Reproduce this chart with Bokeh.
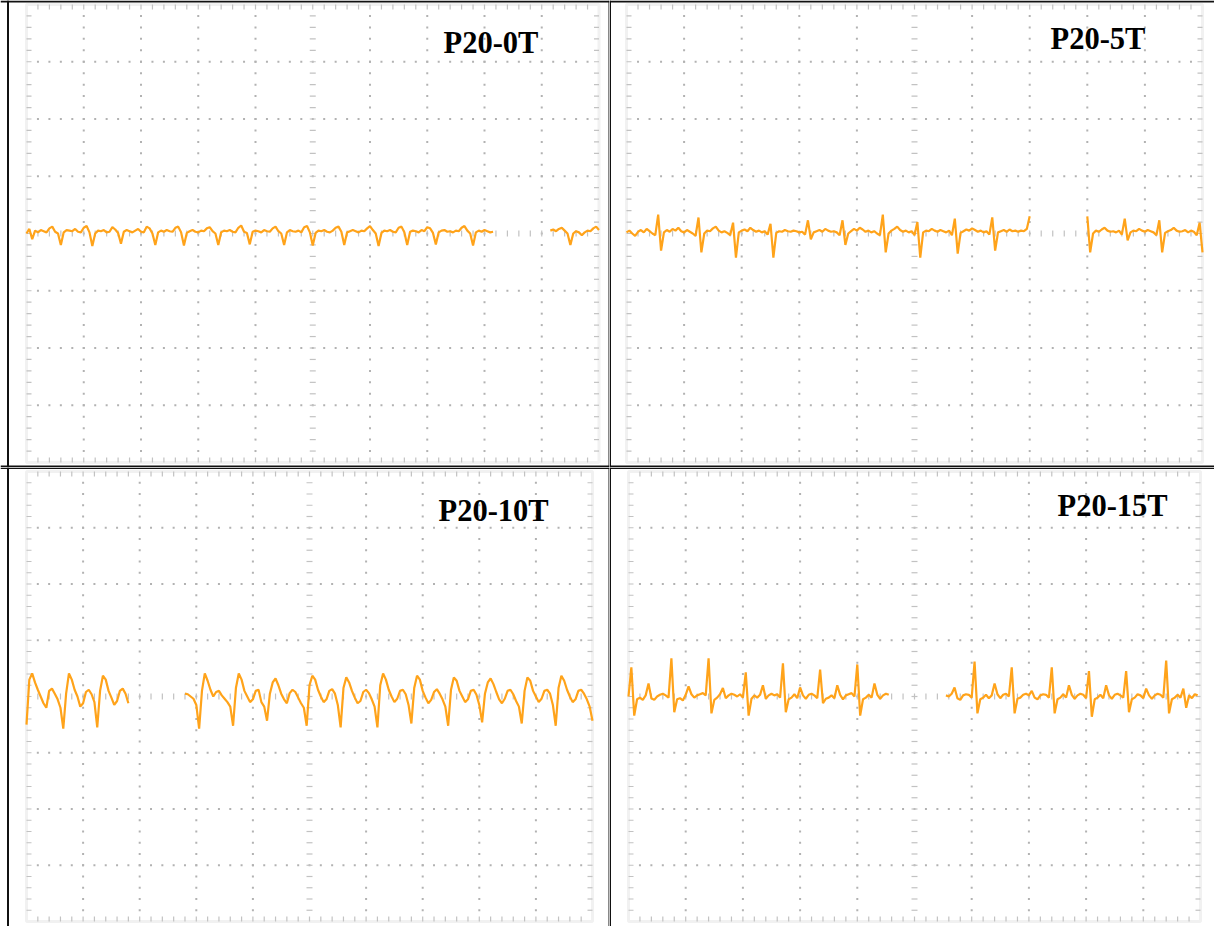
import numpy as np
from bokeh.plotting import figure
from bokeh.layouts import column, row
from bokeh.models import Span, BoxAnnotation, Label, Range1d
from bokeh.embed import file_html
from bokeh.resources import INLINE

# ---------------- data (in screen divisions) ----------------
labels = ["P20-0T", "P20-5T", "P20-10T", "P20-15T"]
STEP = 0.05  # horizontal divisions per sample
N = None

trace_p20_0t = [
    0.0, 0.08, -0.1, 0.05, 0.02, 0.06, 0.04, 0.02, 0.09, 0.12,
    0.03, 0.0, -0.2, 0.02, 0.06, 0.05, 0.04, 0.08, 0.03, 0.02,
    0.1, 0.13, 0.02, -0.22, 0.0, 0.05, 0.04, 0.06, 0.02, 0.03,
    0.11, 0.07, 0.01, -0.18, 0.03, 0.06, 0.04, 0.02, 0.05, 0.08,
    0.03, 0.02, 0.12, 0.09, 0.0, -0.2, 0.02, 0.05, 0.03, 0.06,
    0.04, 0.03, 0.1, 0.12, 0.02, -0.21, 0.01, 0.04, 0.06, 0.03,
    0.02, 0.05, 0.04, 0.09, 0.11, 0.04, 0.0, -0.2, 0.02, 0.05,
    0.04, 0.06, 0.03, 0.02, 0.1, 0.14, 0.03, 0.01, -0.19, 0.03,
    0.05, 0.04, 0.02, 0.06, 0.04, 0.03, 0.09, 0.12, 0.04, 0.0,
    -0.2, 0.02, 0.06, 0.04, 0.03, 0.05, 0.02, 0.11, 0.13, 0.02,
    -0.21, 0.01, 0.05, 0.04, 0.06, 0.03, 0.02, 0.05, 0.1, 0.12,
    0.03, -0.2, 0.02, 0.04, 0.06, 0.04, 0.02, 0.05, 0.04, 0.09,
    0.13, 0.06, 0.0, -0.22, 0.01, 0.05, 0.04, 0.06, 0.03, 0.02,
    0.1, 0.12, 0.02, -0.2, 0.03, 0.05, 0.04, 0.02, 0.06, 0.04,
    0.11, 0.09, 0.01, -0.19, 0.02, 0.05, 0.06, 0.03, 0.04, 0.02,
    0.05, 0.04, 0.1, 0.13, 0.05, 0.0, -0.21, 0.02, 0.05, 0.03,
    0.06, 0.04, 0.02, 0.03, N, N, N, N, N, N,
    N, N, N, N, N, N, N, N, N, N,
    N, N, N, 0.05, 0.07, 0.04, 0.08, 0.1, 0.05, 0.0,
    -0.2, 0.0, 0.04, 0.02, -0.03, 0.02, 0.05, 0.04, 0.09, 0.12, 0.06,
]

trace_p20_5t = [
    0.02, 0.05, 0.0, -0.04, 0.03, 0.06, 0.02, 0.08, 0.04, 0.0,
    -0.03, 0.33, -0.3, 0.02, 0.06, 0.03, 0.08, 0.05, 0.1, 0.04,
    0.02, 0.06, 0.03, 0.0, -0.04, 0.28, -0.33, 0.0, 0.05, 0.04,
    0.09, 0.12, 0.05, 0.02, 0.04, 0.01, -0.03, 0.19, -0.42, 0.02,
    0.05, 0.07, 0.04, 0.1, 0.06, 0.03, 0.05, 0.02, 0.04, -0.02,
    0.17, -0.42, 0.01, 0.04, 0.03, 0.06, 0.04, 0.03, 0.05, 0.04,
    0.02, 0.03, -0.02, 0.23, -0.1, 0.02, 0.04, 0.06, 0.03, 0.08,
    0.05, 0.03, 0.04, 0.02, -0.03, 0.23, -0.2, 0.0, 0.04, 0.08,
    0.05, 0.1, 0.07, 0.03, 0.05, 0.02, 0.04, 0.0, -0.03, 0.33,
    -0.33, 0.0, 0.05, 0.08, 0.12, 0.06, 0.03, 0.05, 0.02, 0.04,
    -0.03, 0.2, -0.42, 0.02, 0.05, 0.04, 0.08, 0.05, 0.03, 0.06,
    0.04, 0.02, 0.05, -0.03, 0.26, -0.35, 0.01, 0.04, 0.07, 0.05,
    0.09, 0.06, 0.03, 0.05, 0.02, 0.04, -0.02, 0.28, -0.3, 0.02,
    0.04, 0.06, 0.03, 0.07, 0.04, 0.05, 0.03, 0.05, 0.04, 0.08,
    0.3, N, N, N, N, N, N, N, N, N,
    N, N, N, N, N, N, N, N, N, N,
    0.3, -0.33, 0.0, 0.05, 0.03, 0.07, 0.1, 0.05, 0.03, 0.04,
    0.02, 0.05, -0.02, 0.26, -0.12, 0.02, 0.05, 0.04, 0.08, 0.05,
    0.03, 0.06, 0.04, 0.02, -0.03, 0.23, -0.33, 0.01, 0.04, 0.06,
    0.1, 0.05, 0.03, 0.04, 0.06, 0.02, 0.05, 0.03, -0.03, 0.19, -0.33,
]

trace_p20_10t = [
    -0.5, 0.3, 0.41, 0.25, 0.12, 0.0, -0.12, -0.2, 0.1, 0.14,
    0.05, -0.05, -0.2, -0.57, 0.05, 0.41, 0.3, 0.12, 0.0, -0.18,
    -0.12, 0.08, 0.12, 0.04, -0.1, -0.55, 0.1, 0.37, 0.3, 0.1,
    -0.02, -0.15, -0.08, 0.1, 0.14, 0.05, -0.12, N, N, N,
    N, N, N, N, N, N, N, N, N, N,
    N, N, N, N, N, N, 0.05, 0.04, 0.0, -0.04,
    -0.15, -0.57, 0.1, 0.41, 0.28, 0.12, 0.0, 0.08, 0.1, 0.02,
    -0.04, -0.1, -0.18, -0.52, 0.15, 0.41, 0.3, 0.1, 0.0, -0.1,
    -0.05, 0.1, 0.12, -0.1, -0.18, -0.43, 0.05, 0.25, 0.32, 0.2,
    0.05, -0.05, -0.12, 0.06, 0.12, 0.08, -0.02, -0.12, -0.2, -0.52,
    0.2, 0.37, 0.3, 0.12, 0.0, -0.1, -0.05, 0.1, 0.13, 0.05,
    -0.15, -0.55, 0.15, 0.34, 0.25, 0.1, -0.02, -0.12, -0.08, 0.08,
    0.12, 0.06, -0.05, -0.18, -0.55, 0.2, 0.41, 0.3, 0.12, 0.0,
    -0.1, -0.04, 0.1, 0.12, 0.04, -0.15, -0.48, 0.15, 0.37, 0.3,
    0.1, -0.02, -0.12, -0.06, 0.08, 0.13, 0.05, -0.05, -0.18, -0.52,
    0.12, 0.34, 0.28, 0.1, 0.0, -0.1, -0.05, 0.1, 0.12, 0.03,
    -0.15, -0.46, 0.05, 0.25, 0.32, 0.22, 0.08, -0.05, -0.12, -0.04,
    0.1, 0.12, 0.04, -0.08, -0.18, -0.48, 0.1, 0.34, 0.28, 0.1,
    0.0, -0.1, -0.04, 0.1, 0.12, 0.05, -0.15, -0.52, 0.15, 0.37,
    0.28, 0.12, 0.0, -0.1, -0.05, 0.1, 0.12, 0.05, -0.05, -0.18, -0.43,
]

trace_p20_15t = [
    0.0, 0.52, -0.34, -0.05, -0.02, -0.06, 0.02, 0.23, -0.03, -0.06,
    0.0, 0.03, 0.05, 0.02, -0.02, 0.68, -0.28, -0.05, -0.03, -0.07,
    0.03, 0.18, 0.04, -0.02, 0.02, 0.04, 0.06, 0.02, 0.68, -0.3,
    -0.06, -0.02, 0.04, 0.15, -0.03, 0.02, 0.05, 0.03, 0.0, 0.04,
    -0.02, 0.43, -0.34, -0.04, 0.02, -0.02, 0.03, 0.2, -0.04, 0.02,
    0.05, 0.02, 0.04, -0.02, 0.59, -0.28, -0.05, -0.02, 0.04, -0.03,
    0.16, 0.02, -0.04, 0.03, 0.05, 0.02, -0.03, 0.48, -0.12, -0.04,
    -0.02, 0.02, -0.03, 0.2, 0.03, -0.05, 0.02, 0.04, 0.06, 0.0,
    0.57, -0.34, -0.05, -0.02, 0.03, -0.02, 0.23, 0.03, -0.04, 0.02,
    0.05, 0.03, N, N, N, N, N, N, N, N,
    N, N, N, N, N, N, N, N, N, N,
    N, 0.02, 0.0, 0.05, 0.16, -0.03, -0.06, 0.02, 0.04, 0.03,
    -0.02, 0.62, -0.3, -0.05, -0.02, 0.03, -0.03, 0.02, 0.23, 0.04,
    -0.03, 0.03, 0.05, 0.0, 0.52, -0.3, -0.04, -0.02, 0.03, 0.05,
    0.02, 0.1, -0.02, -0.05, 0.02, 0.04, 0.03, -0.02, 0.52, -0.3,
    -0.05, -0.02, 0.04, -0.02, 0.2, 0.03, -0.04, 0.02, 0.05, 0.03,
    -0.03, 0.45, -0.36, -0.05, -0.02, 0.03, -0.03, 0.2, 0.02, -0.04,
    0.03, 0.05, 0.02, -0.02, 0.45, -0.28, -0.05, -0.02, 0.04, 0.02,
    -0.03, 0.14, 0.02, -0.04, 0.02, 0.05, 0.03, -0.02, 0.64, -0.3,
    -0.05, -0.02, 0.03, -0.02, 0.14, -0.2, 0.02, -0.03, 0.04, 0.02, N,
]

traces = [trace_p20_0t, trace_p20_5t, trace_p20_10t, trace_p20_15t]

# ---------------- styling / layout (pixels) ----------------
ORANGE = "#ffa31a"
FRAME = "#cfcfcf"
DOT = "#b2b2b2"
TICK = "#c2c2c2"
BORDER = "#111111"

# cell sizes and screen placement (local pixels, from cell's left / top)
cells = [
    dict(W=609, H=467, L=26, R=598.5, T=4, B=462,
         lab=(443, 42), vb=[(7.5, 2), (608.5, 1)], hb=[(1, 2), (466, 2)]),
    dict(W=605, H=467, L=17, R=593, T=4, B=462,
         lab=(441, 38.5), vb=[(0.75, 1.5)], hb=[(1, 2), (466, 2)]),
    dict(W=609, H=459, L=26, R=592, T=4, B=454,
         lab=(438, 43), vb=[(7.5, 2), (608.5, 1)], hb=[(0.75, 1.5)]),
    dict(W=605, H=459, L=19, R=591, T=4, B=454,
         lab=(448, 38), vb=[(0.75, 1.5)], hb=[(0.75, 1.5)]),
]


def make_panel(cfg, vals, text):
    W, H, L, R, T, B = cfg["W"], cfg["H"], cfg["L"], cfg["R"], cfg["T"], cfg["B"]
    span_x = 10.0 * W / (R - L)
    x0 = -10.0 * L / (R - L)
    span_y = 8.0 * H / (B - T)
    y1 = 4.0 + 8.0 * T / (B - T)
    y0 = y1 - span_y
    p = figure(width=W, height=H, x_range=Range1d(x0, x0 + span_x), y_range=Range1d(y0, y1),
               output_backend="svg", toolbar_location=None, min_border=0,
               x_axis_location=None, y_axis_location=None, tools="")
    p.grid.visible = False
    p.outline_line_color = None
    p.background_fill_color = "white"
    p.border_fill_color = "white"

    def dx(px):
        return x0 + px * span_x / W

    def dy(py):
        return y1 - py * span_y / H

    ux = 10.0 / (R - L)
    uy = 8.0 / (B - T)

    # screen frame
    p.add_layout(BoxAnnotation(left=0, right=10, bottom=-4, top=4, fill_alpha=0,
                               line_color=FRAME, line_width=3, level="underlay"))

    minor_x = np.round(np.arange(1, 50) * 0.2, 6)
    minor_y = np.round(-4 + np.arange(1, 40) * 0.2, 6)
    vx = np.array([1, 2, 3, 4, 6, 7, 8, 9], dtype=float)
    hy = np.array([-3, -2, -1, 1, 2, 3], dtype=float)
    gx = np.concatenate([np.repeat(vx, len(minor_y)), np.tile(minor_x, len(hy))])
    gy = np.concatenate([np.tile(minor_y, len(vx)), np.repeat(hy, len(minor_x))])
    p.scatter(gx, gy, marker="square", size=2, fill_color=DOT, line_color=None)

    # centre axes with minor ticks
    p.scatter(minor_x, np.zeros_like(minor_x), marker="dash", angle=np.pi / 2, size=6,
              line_color=TICK, line_width=1.2)
    p.scatter(np.full_like(minor_y, 5.0), minor_y, marker="dash", size=6,
              line_color=TICK, line_width=1.2)

    # frame ticks (inward)
    p.scatter(minor_x, np.full_like(minor_x, 4 - 2.5 * uy), marker="dash", angle=np.pi / 2,
              size=5, line_color=TICK, line_width=1.2)
    p.scatter(minor_x, np.full_like(minor_x, -4 + 2.5 * uy), marker="dash", angle=np.pi / 2,
              size=5, line_color=TICK, line_width=1.2)
    p.scatter(np.full_like(minor_y, 2.5 * ux), minor_y, marker="dash", size=5,
              line_color=TICK, line_width=1.2)
    p.scatter(np.full_like(minor_y, 10 - 2.5 * ux), minor_y, marker="dash", size=5,
              line_color=TICK, line_width=1.2)

    # waveform
    y = np.array(vals, dtype=float)
    x = np.arange(len(y)) * STEP
    p.line(x, y, line_color=ORANGE, line_width=2.2)

    # label
    lx, ly = cfg["lab"]
    p.add_layout(Label(x=dx(lx), y=dy(ly), text=text, text_font="Liberation Serif",
                       text_font_style="bold", text_font_size="30.5px", text_color="black",
                       text_align="left", text_baseline="alphabetic"))

    # table borders
    for loc, w in cfg["vb"]:
        p.add_layout(Span(location=dx(loc), dimension="height", line_color=BORDER, line_width=w))
    for loc, w in cfg["hb"]:
        p.add_layout(Span(location=dy(loc), dimension="width", line_color=BORDER, line_width=w))
    return p


panels = [make_panel(c, v, t) for c, v, t in zip(cells, traces, labels)]
layout = column(row(panels[0], panels[1], spacing=0), row(panels[2], panels[3], spacing=0), spacing=0)

open("out.html", "w").write(file_html(layout, INLINE))
